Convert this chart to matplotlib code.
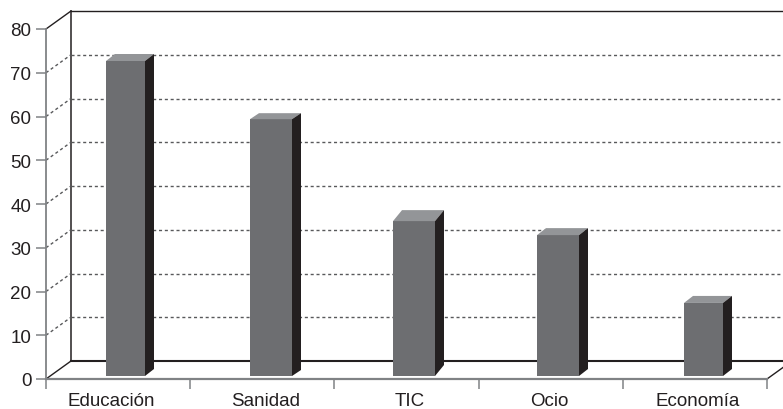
import matplotlib
matplotlib.use("Agg")
import matplotlib.pyplot as plt
from matplotlib.patches import Polygon

categories = ["Educación", "Sanidad", "TIC", "Ocio", "Economía"]
values = [72, 58.7, 35.4, 32.2, 16.7]
y_ticks = [0, 10, 20, 30, 40, 50, 60, 70, 80]

W, H = 783, 410
plt.rcParams["font.family"] = ["Liberation Sans", "DejaVu Sans"]
fig = plt.figure(figsize=(W / 100, H / 100), dpi=100)
# plot box: x 46..767 px, y 30..380 px
L, R, T, B = 46, 767, 30, 380
ax = fig.add_axes([L / W, 1 - B / H, (R - L) / W, (B - T) / H])
ax.set_xlim(0, len(categories))
ax.set_ylim(0, 80)
ax.patch.set_visible(False)
for s in ax.spines.values():
    s.set_visible(False)

ux = (R - L) / len(categories)   # px per category
uy = (B - T) / 80                # px per value unit
wall_dx, wall_dy = 25 / ux, 18 / uy
gray, dark, front, top = "#808285", "#231f20", "#6d6e71", "#939598"

# back wall
ax.plot([wall_dx, wall_dx], [wall_dy, 80 + wall_dy], color=dark, lw=1.1, clip_on=False, zorder=1)
ax.plot([wall_dx, wall_dx + 5.2], [80 + wall_dy] * 2, color=dark, lw=1.0, clip_on=False, zorder=1)
ax.plot([wall_dx, wall_dx + 5.2], [wall_dy] * 2, color=dark, lw=1.5, clip_on=False, zorder=1)
for v in y_ticks:
    if v == 0:
        ax.plot([0, wall_dx], [0, wall_dy], color=dark, lw=1.0, clip_on=False, zorder=1)
    elif v == 80:
        ax.plot([0, wall_dx], [80, 80 + wall_dy], color=dark, lw=1.0, clip_on=False, zorder=1)
    else:
        kw = dict(color="#58595b", lw=1.0, dashes=(2.2, 2.0), clip_on=False, zorder=1)
        ax.plot([0, wall_dx], [v, v + wall_dy], **kw)
        ax.plot([wall_dx, wall_dx + 5.2], [v + wall_dy] * 2, **kw)
# right floor edge
ax.plot([5, 5 + wall_dx], [0, wall_dy], color=dark, lw=1.0, clip_on=False, zorder=1)

# axes lines and ticks
ax.plot([0, 0], [0, 80], color=gray, lw=1.3, clip_on=False, zorder=2)
ax.plot([0, 5], [0, 0], color=gray, lw=1.6, clip_on=False, zorder=2)
ax.set_yticks(y_ticks)
ax.set_xticks(range(len(categories) + 1))
ax.set_xticklabels([])
ax.tick_params(axis="y", length=7.4, width=1.1, color=gray, labelcolor=dark, labelsize=13.5, pad=3.2)
ax.tick_params(axis="x", length=7.2, width=1.1, color=gray)

# bars (left edge, width, depth in px as measured)
bar_left = [106, 250, 393, 537, 684]
bar_width = [39, 42, 42, 42, 39]
bar_depth_x = [9, 9, 9, 9, 9]
bar_depth_y = [7, 6, 11, 7, 7]
base = 3 / uy
for px, pw, pdx, pdy, v in zip(bar_left, bar_width, bar_depth_x, bar_depth_y, values):
    x0 = (px - L) / ux
    x1 = x0 + pw / ux
    dx, dy = pdx / ux, pdy / uy
    yt = base + v
    ax.add_patch(Polygon([(x0, base), (x1, base), (x1, yt), (x0, yt)], fc=front, ec="none", zorder=4))
    ax.add_patch(Polygon([(x0, yt), (x1, yt), (x1 + dx, yt + dy), (x0 + dx, yt + dy)], fc=top, ec="none", zorder=4))
    ax.add_patch(Polygon([(x1, base), (x1 + dx, base + dy), (x1 + dx, yt + dy), (x1, yt)], fc=dark, ec="none", zorder=4))

# category labels
label_shift_px = [-6.5, 3, 3, -1, 3]
for i, (c, sh) in enumerate(zip(categories, label_shift_px)):
    ax.annotate(c, (i + 0.5, 0), xytext=(sh * 0.72, -15.2), textcoords="offset points",
                ha="center", va="center", fontsize=13.5, color=dark, annotation_clip=False)

fig.savefig("out.png", dpi=100, facecolor="white")
